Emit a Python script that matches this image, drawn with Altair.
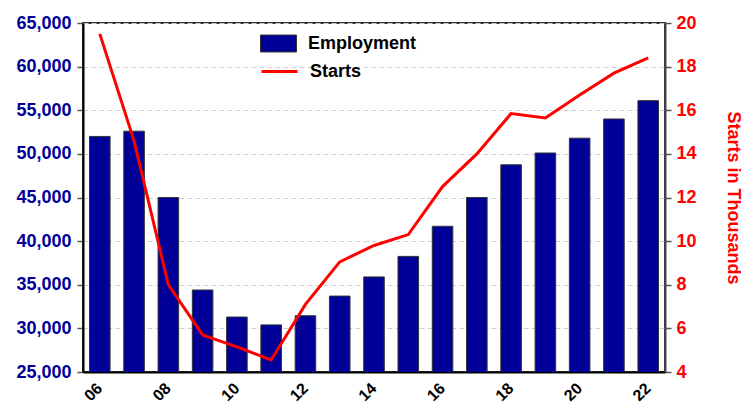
import altair as alt
import pandas as pd

years = ["06", "07", "08", "09", "10", "11", "12", "13", "14", "15", "16", "17", "18", "19", "20", "21", "22"]
employment = [52000, 52600, 45000, 34400, 31300, 30400, 31450, 33700, 35900, 38250, 41700, 45000, 48750, 50100, 51800, 54000, 56100]
starts = [19.5, 14.6, 8.0, 5.7, 5.15, 4.55, 7.1, 9.05, 9.8, 10.3, 12.5, 14.0, 15.85, 15.65, 16.7, 17.7, 18.4]
x_labels = ["06", "08", "10", "12", "14", "16", "18", "20", "22"]
left_ticks = [25000, 30000, 35000, 40000, 45000, 50000, 55000, 60000, 65000]
right_ticks = [4, 6, 8, 10, 12, 14, 16, 18, 20]

df = pd.DataFrame({
    "year": years,
    "employment": employment,
    "starts": starts,
    "emp_series": ["Employment"] * len(years),
    "start_series": ["Starts"] * len(years),
})
lab_df = pd.DataFrame({"year": x_labels})

FONT = "Liberation Sans"
NAVY = "#000099"
RED = "#FF0000"
PLOT_H = 349

x_enc = alt.X(
    "year:N",
    sort=years,
    scale=alt.Scale(paddingInner=0.4, paddingOuter=0.19),
    axis=alt.Axis(title=None, labels=False, ticks=False, grid=False,
                  domainColor="black", domainWidth=2),
)

bars = alt.Chart(df).mark_bar(stroke="#333333", strokeWidth=1, clip=True).encode(
    x=x_enc,
    y=alt.Y(
        "employment:Q",
        scale=alt.Scale(domain=[25000, 65000], nice=False, zero=False),
        axis=alt.Axis(
            orient="left", values=left_ticks, format=",.0f", title=None,
            labelFont=FONT, labelFontSize=18, labelFontWeight="bold",
            labelColor=NAVY, tickSize=6, tickColor="#555555", tickWidth=1.5,
            labelPadding=6, domainColor="black", domainWidth=2,
            grid=True, gridColor="#cfcfcf", gridDash=[5, 3], gridWidth=1,
        ),
    ),
    fill=alt.Fill(
        "emp_series:N",
        scale=alt.Scale(domain=["Employment"], range=[NAVY]),
        legend=alt.Legend(
            orient="none", legendX=177, legendY=2, title=None,
            symbolType="M-1,-0.47H1V0.47H-1Z", symbolSize=1296,
            symbolStrokeColor="#333333", symbolStrokeWidth=1,
            labelFont=FONT, labelFontSize=18, labelFontWeight="bold",
            labelColor="black", labelOffset=11, padding=0,
        ),
    ),
)

line = alt.Chart(df).mark_line(strokeWidth=3).encode(
    x=alt.X("year:N", sort=years),
    y=alt.Y(
        "starts:Q",
        scale=alt.Scale(domain=[4, 20], nice=False, zero=False),
        axis=alt.Axis(
            orient="right", values=right_ticks, title="Starts in Thousands",
            labelFont=FONT, labelFontSize=18, labelFontWeight="bold",
            labelColor=RED, tickSize=6, tickColor="#555555", tickWidth=1.5,
            labelPadding=5, domainColor="#444444", domainWidth=2, grid=False,
            titleFont=FONT, titleFontSize=18, titleFontWeight="bold",
            titleColor=RED, titleAngle=90, titleX=67, titleY=174.5,
            titleAlign="center", titleBaseline="middle",
        ),
    ),
    stroke=alt.Stroke(
        "start_series:N",
        scale=alt.Scale(domain=["Starts"], range=[RED]),
        legend=alt.Legend(
            orient="none", legendX=177, legendY=29, title=None,
            symbolType="stroke", symbolSize=1296, symbolStrokeWidth=3,
            labelFont=FONT, labelFontSize=18, labelFontWeight="bold",
            labelColor="black", labelOffset=11, padding=0,
        ),
    ),
)

xlabels = alt.Chart(lab_df).mark_text(
    angle=315, align="right", baseline="middle", font=FONT,
    fontSize=16, fontWeight="bold", color="black",
).encode(
    x=alt.X("year:N", sort=years),
    y=alt.value(PLOT_H + 14),
    text="year:N",
)

chart = alt.layer(bars, line, xlabels).resolve_scale(
    y="independent", fill="independent", stroke="independent"
).properties(
    width=582, height=PLOT_H,
    padding={"left": 75, "top": 15, "right": 77, "bottom": 36},
    autosize=alt.AutoSizeParams(type="none"),
).configure_view(stroke="#333333", strokeWidth=2)

chart.save("out.html", embed_options={"renderer": "svg", "actions": False})
